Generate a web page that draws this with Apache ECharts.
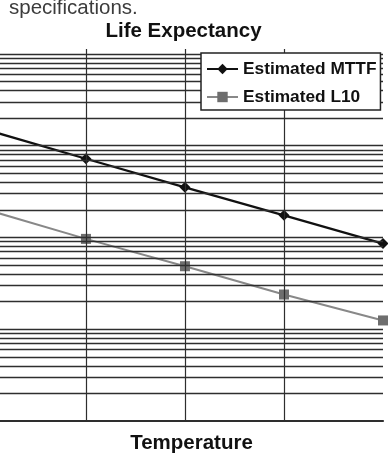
<!DOCTYPE html>
<html>
<head>
<meta charset="utf-8">
<script src="https://cdn.jsdelivr.net/npm/echarts@6/dist/echarts.min.js"></script>
<style>html,body{margin:0;padding:0;background:#fff;}#c{width:388px;height:459px;}</style>
</head>
<body>
<div id="c"></div>
<script>
// Temperature steps (axis labels are cropped out of the reference); index 0 lies left of the visible area
const tempSteps = [0, 1, 2, 3, 4];
// Estimated life values (log scale)
const mttf = [148500, 72200, 35170, 17440, 8580];
const l10 = [20040, 9656, 4860, 2391, 1247];
// Visible axis ranges
const xMin = 0.132;
const xMax = 4;
const yMin = 100;
const yMax = 1133000;
// Gridlines
const decades = [100, 1000, 10000, 100000];
const multipliers = [1, 2, 3, 4, 5, 6, 7, 8, 9];
const topGridValue = 1000000;
const verticalGrid = [1, 2, 3];

const gridValues = [];
decades.forEach(d => multipliers.forEach(m => {
  const v = d * m;
  if (v > yMin) gridValues.push(v);
}));
gridValues.push(topGridValue);

const chart = echarts.init(document.getElementById('c'), null, {renderer: 'canvas'});
const lineCol = '#2e2e2e';
const font = '"Liberation Sans", Arial, sans-serif';
chart.setOption({
  animation: false,
  backgroundColor: '#fff',
  grid: {left: 0, right: 5, top: 49, bottom: 37},
  graphic: [
    {type: 'text', left: 9, top: -2, style: {text: 'specifications.', font: '20.5px ' + font, fill: '#3c3c3c'}},
    {type: 'text', x: 183.5, y: 31, style: {text: 'Life Expectancy', font: 'bold 20.5px ' + font, fill: '#111', align: 'center', verticalAlign: 'middle'}}
  ],
  legend: {
    left: 201, top: 53,
    orient: 'vertical',
    backgroundColor: '#fff',
    borderColor: '#222', borderWidth: 1.5, borderRadius: 0,
    padding: [6, 4, 3, 5],
    itemGap: 8,
    itemWidth: 31, itemHeight: 13,
    textStyle: {fontFamily: font, fontWeight: 'bold', fontSize: 17.3, color: '#111', lineHeight: 20},
    data: ['Estimated MTTF', 'Estimated L10'],
    z: 10
  },
  xAxis: {
    type: 'value',
    min: xMin,
    max: xMax,
    name: 'Temperature',
    nameLocation: 'middle',
    nameGap: 12,
    nameTextStyle: {fontFamily: font, fontWeight: 'bold', fontSize: 20.5, color: '#111'},
    axisLine: {show: true, onZero: false, lineStyle: {color: lineCol, width: 2.2}},
    axisTick: {show: false},
    axisLabel: {show: false},
    splitLine: {show: false}
  },
  yAxis: {
    type: 'log',
    logBase: 10,
    min: yMin,
    max: yMax,
    axisLine: {show: false},
    axisTick: {show: false},
    axisLabel: {show: false},
    splitLine: {show: false}
  },
  series: [
    {
      name: 'grid', type: 'line', data: [], silent: true, z: 1,
      markLine: {
        silent: true, symbol: 'none', label: {show: false},
        lineStyle: {color: lineCol, width: 1.4, type: 'solid'},
        emphasis: {disabled: true},
        data: gridValues.map(v => ({yAxis: v})).concat(verticalGrid.map(v => ({xAxis: v, lineStyle: {width: 1.2}})))
      }
    },
    {
      name: 'Estimated MTTF', type: 'line', z: 3,
      data: tempSteps.map((x, i) => [x, mttf[i]]),
      symbol: 'diamond', symbolSize: 11, showAllSymbol: true,
      lineStyle: {color: '#111', width: 2.2},
      itemStyle: {color: '#111'}
    },
    {
      name: 'Estimated L10', type: 'line', z: 3,
      data: tempSteps.map((x, i) => [x, l10[i]]),
      symbol: 'rect', symbolSize: 10, showAllSymbol: true,
      lineStyle: {color: '#888', width: 2},
      itemStyle: {color: '#6e6e6e'}
    }
  ]
});
</script>
</body>
</html>
